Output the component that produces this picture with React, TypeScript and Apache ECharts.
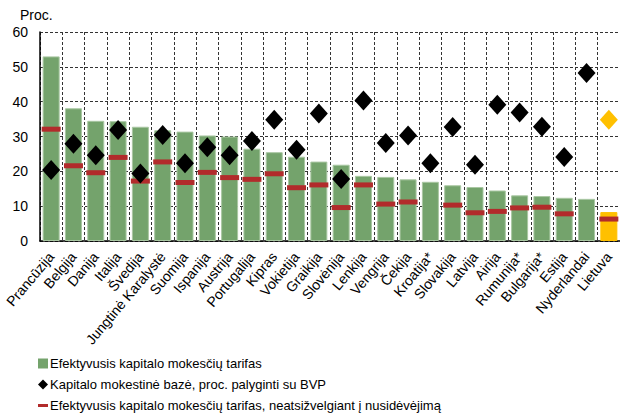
import React, { useEffect, useRef } from "react";
import * as echarts from "echarts";

const categories = [
  "Prancūzija", "Belgija", "Danija", "Italija", "Švedija", "Jungtinė Karalystė",
  "Suomija", "Ispanija", "Austrija", "Portugalija", "Kipras", "Vokietija",
  "Graikija", "Slovėnija", "Lenkija", "Vengrija", "Čekija", "Kroatija*",
  "Slovakija", "Latvija", "Airija", "Rumunija*", "Bulgarija*", "Estija",
  "Nyderlandai", "Lietuva",
];
const effectiveRate = [
  53.0, 38.1, 34.5, 34.4, 32.8, 31.8, 31.4, 30.3, 30.0, 26.5, 25.5, 24.2,
  22.8, 21.9, 18.7, 18.4, 17.7, 17.0, 16.0, 15.5, 14.5, 13.1, 12.9, 12.4,
  12.1, 8.3,
];
const taxBase = [
  20.4, 27.9, 24.6, 31.9, 19.4, 30.4, 22.3, 26.9, 24.6, 28.7, 34.8, 26.2,
  36.6, 17.8, 40.3, 28.1, 30.3, 22.3, 32.7, 21.9, 39.1, 36.9, 32.8, 24.1,
  48.2, 34.8,
];
const rateNoDepr: (number | null)[] = [
  32.1, 21.6, 19.6, 24.0, 17.2, 22.7, 16.8, 19.7, 18.2, 17.7, 19.3, 15.3,
  16.1, 9.6, 16.1, 10.6, 11.2, null, 10.3, 8.1, 8.5, 9.5, 9.7, 7.8,
  null, 6.3,
];
const yTicks = [0, 10, 20, 30, 40, 50, 60];

const seriesNames = [
  "Efektyvusis kapitalo mokesčių tarifas",
  "Kapitalo mokestinė bazė, proc. palyginti su BVP",
  "Efektyvusis kapitalo mokesčių tarifas, neatsižvelgiant į nusidėvėjimą",
];

const GREEN = "#74A36C";
const YELLOW = "#FFC000";
const RED = "#B22B2B";
const FONT = "Liberation Sans, Arial, sans-serif";
const HIGHLIGHT = "Lietuva";

export default function App() {
  const ref = useRef<HTMLDivElement>(null);
  useEffect(() => {
    if (!ref.current) return;
    const chart = echarts.init(ref.current, undefined, { renderer: "svg" });
    const gridLine = { show: true, lineStyle: { color: "#333", type: [3, 2] as any, width: 1 } };
    chart.setOption({
      animation: false,
      textStyle: { fontFamily: FONT },
      grid: { left: 40, right: 0, top: 32, bottom: 173 },
      graphic: [
        {
          type: "text",
          left: 20,
          top: 8,
          style: { text: "Proc.", font: `14px ${FONT}`, fill: "#000" },
        },
      ],
      legend: {
        orient: "vertical",
        left: 38,
        top: 357,
        padding: 0,
        height: 70,
        itemWidth: 10,
        itemHeight: 10,
        itemGap: 8,
        textStyle: { fontSize: 13, color: "#000", fontFamily: FONT, padding: [0, 0, 0, -3] },
        data: [
          { name: seriesNames[0], icon: "rect", itemStyle: { color: GREEN, borderWidth: 0 } },
          { name: seriesNames[1], icon: "diamond", itemStyle: { opacity: 1 } },
          { name: seriesNames[2], icon: "path://M0,0h10v3H0z", itemStyle: { opacity: 1 } },
        ],
      },
      xAxis: {
        type: "category",
        data: categories,
        axisLine: { lineStyle: { color: "#000", width: 1.5 } },
        axisTick: { show: false },
        axisLabel: {
          interval: 0,
          rotate: 50,
          fontSize: 14,
          color: "#000",
          fontFamily: FONT,
          margin: 13,
        },
        splitLine: { ...gridLine, interval: 0 },
      },
      yAxis: {
        type: "value",
        min: yTicks[0],
        max: yTicks[yTicks.length - 1],
        interval: 10,
        axisLine: { show: true, lineStyle: { color: "#000", width: 1.5 } },
        axisTick: { show: false },
        axisLabel: { fontSize: 14, color: "#000", fontFamily: FONT, margin: 12 },
        splitLine: gridLine,
      },
      series: [
        {
          name: seriesNames[0],
          type: "bar",
          barWidth: 17,
          itemStyle: { color: GREEN, borderColor: "#A9C7A2", borderWidth: 1 },
          data: effectiveRate.map((v, i) =>
            categories[i] === HIGHLIGHT
              ? { value: v, itemStyle: { color: YELLOW, borderColor: YELLOW } }
              : v
          ),
          z: 2,
        },
        {
          name: seriesNames[2],
          type: "scatter",
          symbol: "rect",
          symbolSize: [19, 5],
          itemStyle: { color: RED, opacity: 1 },
          data: rateNoDepr.map((v) => (v == null ? "-" : v)),
          z: 3,
        },
        {
          name: seriesNames[1],
          type: "scatter",
          symbol: "diamond",
          symbolSize: [18, 20],
          itemStyle: { color: "#000", opacity: 1 },
          data: taxBase.map((v, i) =>
            categories[i] === HIGHLIGHT ? { value: v, itemStyle: { color: YELLOW } } : v
          ),
          z: 4,
        },
      ],
    });
    return () => chart.dispose();
  }, []);
  return <div ref={ref} style={{ width: 620, height: 414, position: "absolute", left: 0, top: 0 }} />;
}
